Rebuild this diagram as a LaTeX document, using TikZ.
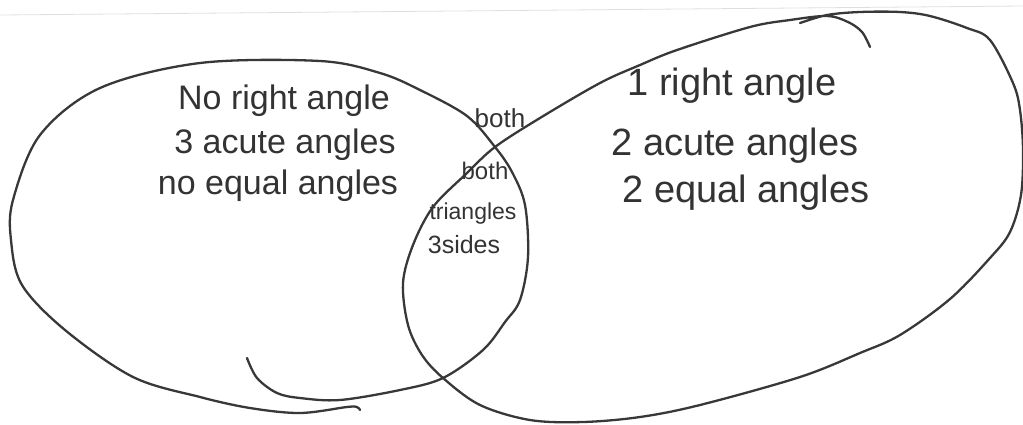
\documentclass[tikz,border=0pt]{standalone}
\usepackage{fontspec}
\setmainfont{Liberation Sans}
\begin{document}
\begin{tikzpicture}[x=1pt,y=-1pt,
  pen/.style={draw=black!78,line width=2.3pt,line cap=round,line join=round},
  hand/.style={text=black!80,inner sep=0pt,anchor=center},
  lbl/.style={hand,font=\fontsize{34}{34}\selectfont},
  rlbl/.style={hand,font=\fontsize{38}{38}\selectfont},
  small/.style={hand,font=\fontsize{23}{23}\selectfont}]
\useasboundingbox (0,0) rectangle (1023,424);
% faint scan edge
\draw[gray!25,line width=0.8pt] (0,15) -- (1023,6);
% left loop
\draw[pen] plot[smooth,tension=0.55] coordinates {
 (247,358) (257,378) (277,393) (300,398) (340,400) (400,390) (443,378)
 (483,350) (505,322) (520,300) (528,257) (525,205) (512,172) (495,147)
 (467,116) (420,90) (380,73) (320,61) (200,63) (100,88) (40,135)
 (13,200) (11,240) (22,285) (65,330) (133,377) (200,397) (250,408)
 (300,413) (347,407) (357,407) (360,410)};
% right loop
\draw[pen] plot[smooth,tension=0.55] coordinates {
 (870,47) (862,32) (848,22) (827,16) (790,20) (750,27) (677,50) (640,65)
 (600,83) (540,118) (495,147) (467,173) (433,207) (413,245) (403,283)
 (408,325) (422,355) (443,378) (480,405) (530,420) (583,422) (640,417)
 (700,405) (800,377) (860,353) (900,335) (950,299) (990,258) (1010,232)
 (1021,195) (1023,150) (1020,110) (1013,83) (990,40) (967,28) (930,16)
 (900,12) (860,12) (827,15) (800,23)};
% left texts
\node[lbl] (l1) at (284,101) {No right angle};
\node[lbl] (l2) at (285,145) {3 acute angles};
\node[lbl] (l3) at (278,186) {no equal angles};
% middle texts
\node[small,font=\fontsize{26}{26}\selectfont] (b1) at (500,118) {both};
\node[small,font=\fontsize{24}{24}\selectfont] (b2) at (485,171) {both};
\node[small] (t1) at (473,214) {triangles};
\node[small,font=\fontsize{25}{25}\selectfont] (t2) at (464,245) {3sides};
% right texts
\node[rlbl] (r1) at (732,86) {1 right angle};
\node[rlbl] (r2) at (735,146) {2 acute angles};
\node[rlbl] (r3) at (746,193) {2 equal angles};
\end{tikzpicture}
\end{document}
